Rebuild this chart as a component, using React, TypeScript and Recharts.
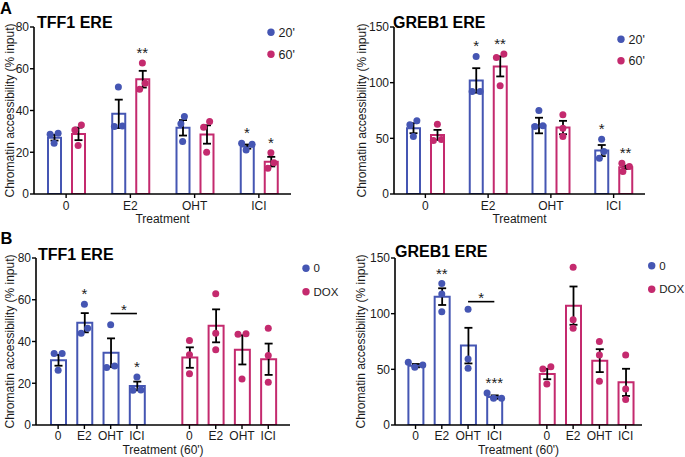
import React from "react";
import {
  Bar, Cell, ComposedChart, ErrorBar, Label, ReferenceLine, Scatter, XAxis, YAxis,
} from "recharts";

const BLUE = "#4556B3";
const PINK = "#C42A6E";
const INK = "#1b1b1b";
const FONT = '"Liberation Sans", Arial, Helvetica, sans-serif';

const treatments = ["0", "E2", "OHT", "ICI"];
const ticks80 = [0, 20, 40, 60, 80];
const ticks150 = [0, 50, 100, 150];

// A – TFF1 ERE, 20' vs 60'
const tffA20Mean = [27.0, 38.4, 31.7, 22.7];
const tffA20Sem = [1.4, 6.8, 3.7, 1.0];
const tffA20Pts = [[29.1, 28.6, 24.3], [51.2, 32.3, 32.6], [37.1, 33.6, 25.1], [24.3, 23.8, 21.1]];
const tffA20Sig = ["", "", "", "*"];
const tffA60Mean = [28.8, 55.0, 28.5, 15.5];
const tffA60Sem = [3.0, 4.0, 4.4, 2.3];
const tffA60Pts = [[33.1, 30.7, 23.2], [62.7, 50.2, 53.1], [34.7, 32.0, 20.0], [19.8, 12.3, 15.0]];
const tffA60Sig = ["", "**", "", "*"];

// A – GREB1 ERE, 20' vs 60'
const grebA20Mean = [59.1, 102.0, 61.5, 39.0];
const grebA20Sem = [4.5, 11.0, 7.0, 5.0];
const grebA20Pts = [[65.7, 62.1, 51.6], [123.6, 92.1, 92.1], [75.0, 60.6, 61.2], [49.2, 32.1, 38.1]];
const grebA20Sig = ["", "*", "", "*"];
const grebA60Mean = [53.1, 114.6, 59.7, 24.0];
const grebA60Sem = [4.5, 9.0, 6.0, 1.5];
const grebA60Pts = [[62.7, 49.0, 48.0], [125.7, 122.7, 97.2], [71.1, 59.1, 51.6], [27.6, 20.1, 24.6]];
const grebA60Sig = ["", "**", "", "**"];

// B – TFF1 ERE, 60', vehicle (0) vs DOX
const tffB0Mean = [31.0, 49.0, 34.6, 18.7];
const tffB0Sem = [2.6, 4.6, 6.9, 2.1];
const tffB0Pts = [[34.2, 34.2, 26.2], [57.9, 44.0, 46.4], [48.0, 27.5, 28.3], [23.0, 16.6, 16.8]];
const tffB0Sig = ["", "*", "", "*"];
const tffBDoxMean = [32.3, 47.5, 36.0, 31.5];
const tffBDoxSem = [4.9, 7.9, 7.0, 7.5];
const tffBDoxPts = [[40.5, 33.6, 24.5], [62.9, 44.0, 36.0], [43.7, 43.5, 22.0], [46.4, 33.3, 20.5]];
const tffBDoxSig = ["", "", "", ""];
const tffBBracket = { from: "OHT", to: "ICI", y: 53.4, label: "*" };

// B – GREB1 ERE, 60', vehicle (0) vs DOX
const grebB0Mean = [53.3, 115.3, 71.3, 25.1];
const grebB0Sem = [1.5, 7.5, 16.0, 1.5];
const grebB0Pts = [[56.3, 51.8, 53.9], [127.0, 117.7, 101.8], [104.0, 59.3, 50.9], [28.7, 24.0, 24.0]];
const grebB0Sig = ["", "**", "", "***"];
const grebBDoxMean = [45.8, 107.2, 57.8, 38.3];
const grebBDoxSem = [4.7, 17.2, 10.3, 12.2];
const grebBDoxPts = [[52.4, 50.3, 36.8], [141.6, 94.6, 87.0], [74.9, 62.9, 39.2], [62.9, 32.3, 22.8]];
const grebBDoxSig = ["", "*", "", ""];
const grebBBracket = { from: "OHT", to: "ICI", y: 110.8, label: "*" };

type Series = { mean: number[]; sem: number[]; pts: number[][]; sig: string[] };
type Box = { left: number; top: number; width: number; height: number };
type Plot = { x0: number; x1: number; y0: number; y1: number };

// spread replicate dots sideways where they would overlap (like a column scatter)
function swarm(vals: number[], ppu: number, d = 8): number[] {
  const n = vals.length;
  const ys = vals.map((v) => -v * ppu);
  const order = vals.map((_, i) => i).sort((p, q) => vals[p] - vals[q]);
  const xs = new Array(n).fill(0);
  const done: number[] = [];
  for (const i of order) {
    for (let s = 0; s < 80; s++) {
      const c = s === 0 ? 0 : (s % 2 ? 1 : -1) * Math.ceil(s / 2) * 0.5;
      if (done.every((j) => (c - xs[j]) ** 2 + (ys[i] - ys[j]) ** 2 >= d * d)) {
        xs[i] = c;
        break;
      }
    }
    done.push(i);
  }
  const grp = vals.map((_, i) => i);
  const find = (i: number): number => (grp[i] === i ? i : (grp[i] = find(grp[i])));
  for (let i = 0; i < n; i++)
    for (let j = i + 1; j < n; j++) if (Math.abs(ys[i] - ys[j]) < d) grp[find(i)] = find(j);
  const members: Record<number, number[]> = {};
  for (let i = 0; i < n; i++) (members[find(i)] ??= []).push(xs[i]);
  return xs.map((x, i) => {
    const g = members[find(i)];
    return x - (Math.max(...g) + Math.min(...g)) / 2;
  });
}

const dotShape = (color: (p: any) => string, dx: number, ptsKey: string, k: number, ppu: number) =>
  (props: any) => {
    const { cx, cy, payload } = props;
    if (!Number.isFinite(cx) || !Number.isFinite(cy) || !payload?.[ptsKey]) return <g />;
    const off = swarm(payload[ptsKey], ppu)[k];
    return <circle cx={cx + dx + off} cy={cy} r={3.5} fill={color(payload)} />;
  };

const starShape = (dx: number, sigKey: string) => (props: any) => {
  const { cx, cy, payload } = props;
  const s = payload?.[sigKey];
  if (!s || !Number.isFinite(cy)) return <g />;
  return (
    <text x={cx + dx} y={cy - 5} textAnchor="middle" fontSize={15} fill={INK}>{s}</text>
  );
};

const yTitle = (x: number, y: number) => () => (
  <text x={x} y={y} transform={`rotate(-90 ${x} ${y})`} textAnchor="middle"
    dominantBaseline="central" fontSize={12} fill={INK}>
    Chromatin accessibility (% input)
  </text>
);

const xTitle = (x: number, y: number, t: string) => () => (
  <text x={x} y={y} textAnchor="middle" fontSize={12} fill={INK}>{t}</text>
);

const axisProps = {
  axisLine: { stroke: "#000", strokeWidth: 1.6 },
  tickLine: { stroke: "#000", strokeWidth: 1.4 },
  tickSize: 4,
  tick: { fontSize: 12, fill: INK },
};

function GroupedPanel({ box, plot, yMax, yTicks, a, b, yTitleX, xLabel, xTitleY }: {
  box: Box; plot: Plot; yMax: number; yTicks: number[]; a: Series; b: Series;
  yTitleX: number; xLabel: string; xTitleY: number;
}) {
  const rows = treatments.map((c, i) => ({
    cat: c,
    aMean: a.mean[i], aSem: a.sem[i], aPts: a.pts[i], aSig: a.sig[i],
    a0: a.pts[i][0], a1: a.pts[i][1], a2: a.pts[i][2],
    aTop: Math.max(...a.pts[i], a.mean[i] + a.sem[i]),
    bMean: b.mean[i], bSem: b.sem[i], bPts: b.pts[i], bSig: b.sig[i],
    b0: b.pts[i][0], b1: b.pts[i][1], b2: b.pts[i][2],
    bTop: Math.max(...b.pts[i], b.mean[i] + b.sem[i]),
  }));
  const ppu = (plot.y1 - plot.y0) / yMax;
  const barSize = 13;
  const gap = 11;
  const slot = (barSize + gap) / 2;
  const series = [
    { id: "a", color: BLUE, dx: -slot },
    { id: "b", color: PINK, dx: slot },
  ];
  return (
    <div style={{ position: "absolute", left: box.left, top: box.top }}>
      <ComposedChart width={box.width} height={box.height} data={rows} barGap={gap}
        margin={{ top: plot.y0 - box.top, right: box.left + box.width - plot.x1, bottom: 0, left: 0 }}>
        <XAxis dataKey="cat" height={box.top + box.height - plot.y1} tickMargin={3.2} {...axisProps}>
          <Label content={xTitle((plot.x0 + plot.x1) / 2 - box.left, xTitleY - box.top, xLabel)} />
        </XAxis>
        <YAxis width={plot.x0 - box.left} domain={[0, yMax]} ticks={yTicks} allowDataOverflow
          tickMargin={1} {...axisProps}>
          <Label content={yTitle(yTitleX - box.left, (plot.y0 + plot.y1) / 2 - box.top)} />
        </YAxis>
        {series.map((s) => (
          <Bar key={s.id} dataKey={`${s.id}Mean`} barSize={barSize} fill="#fff" stroke={s.color}
            strokeWidth={2} isAnimationActive={false}>
            <ErrorBar dataKey={`${s.id}Sem`} width={4} stroke="#000" strokeWidth={1.8} />
          </Bar>
        ))}
        {series.flatMap((s) =>
          [0, 1, 2].map((k) => (
            <Scatter key={`${s.id}${k}`} dataKey={`${s.id}${k}`} isAnimationActive={false}
              shape={dotShape(() => s.color, s.dx, `${s.id}Pts`, k, ppu)} />
          ))
        )}
        {series.map((s) => (
          <Scatter key={`${s.id}star`} dataKey={`${s.id}Top`} isAnimationActive={false}
            shape={starShape(s.dx, `${s.id}Sig`)} />
        ))}
      </ComposedChart>
    </div>
  );
}

function SplitPanel({ box, plot, pad, yMax, yTicks, a, b, bracket, yTitleX, xLabel, xTitleY }: {
  box: Box; plot: Plot; pad: [number, number]; yMax: number; yTicks: number[]; a: Series; b: Series;
  bracket: { from: string; to: string; y: number; label: string };
  yTitleX: number; xLabel: string; xTitleY: number;
}) {
  const make = (s: Series, grp: string) =>
    treatments.map((c, i) => ({
      key: `${grp}${c}`, label: c, grp,
      mean: s.mean[i], sem: s.sem[i], pts: s.pts[i], sig: s.sig[i],
      p0: s.pts[i][0], p1: s.pts[i][1], p2: s.pts[i][2],
      top: Math.max(...s.pts[i], s.mean[i] + s.sem[i]),
    }));
  const rows: any[] = [...make(a, "a"), { key: "gap", label: "" }, ...make(b, "b")];
  const labelOf: Record<string, string> = Object.fromEntries(rows.map((r) => [r.key, r.label]));
  const ppu = (plot.y1 - plot.y0) / yMax;
  const colorOf = (p: any) => (p.grp === "a" ? BLUE : PINK);
  return (
    <div style={{ position: "absolute", left: box.left, top: box.top }}>
      <ComposedChart width={box.width} height={box.height} data={rows}
        margin={{ top: plot.y0 - box.top, right: box.left + box.width - plot.x1, bottom: 0, left: 0 }}>
        <XAxis dataKey="key" height={box.top + box.height - plot.y1} tickMargin={2.6}
          ticks={rows.filter((r) => r.key !== "gap").map((r) => r.key)}
          tickFormatter={(v: string) => labelOf[v]} padding={{ left: pad[0], right: pad[1] }}
          {...axisProps}>
          <Label content={xTitle((plot.x0 + plot.x1) / 2 - box.left, xTitleY - box.top, xLabel)} />
        </XAxis>
        <YAxis width={plot.x0 - box.left} domain={[0, yMax]} ticks={yTicks} allowDataOverflow
          tickMargin={1} {...axisProps}>
          <Label content={yTitle(yTitleX - box.left, (plot.y0 + plot.y1) / 2 - box.top)} />
        </YAxis>
        <Bar dataKey="mean" barSize={15} fill="#fff" strokeWidth={2} isAnimationActive={false}>
          {rows.map((r) => (
            <Cell key={r.key} fill="#fff" stroke={colorOf(r)} />
          ))}
          <ErrorBar dataKey="sem" width={4} stroke="#000" strokeWidth={1.8} />
        </Bar>
        {[0, 1, 2].map((k) => (
          <Scatter key={`p${k}`} dataKey={`p${k}`} isAnimationActive={false}
            shape={dotShape(colorOf, 0, "pts", k, ppu)} />
        ))}
        <Scatter dataKey="top" isAnimationActive={false} shape={starShape(0, "sig")} />
        <ReferenceLine
          segment={[{ x: `a${bracket.from}`, y: bracket.y }, { x: `a${bracket.to}`, y: bracket.y }]}
          stroke="#000" strokeWidth={1.6}
          label={{ value: bracket.label, position: "top", offset: -1.5, fontSize: 15, fill: INK }}
        />
      </ComposedChart>
    </div>
  );
}

const mk = (mean: number[], sem: number[], pts: number[][], sig: string[]): Series => ({ mean, sem, pts, sig });

function LegendMarks({ x, y, labels, size, step }: {
  x: number; y: number; labels: string[]; size: number; step: number;
}) {
  const colors = [BLUE, PINK];
  return (
    <g>
      {labels.map((l, i) => (
        <g key={l}>
          <circle cx={x} cy={y + i * step} r={3.7} fill={colors[i]} />
          <text x={x + 7.5} y={y + i * step + size * 0.36} fontSize={size} fill={INK}>{l}</text>
        </g>
      ))}
    </g>
  );
}

export default function App() {
  return (
    <div style={{ position: "absolute", left: 0, top: 0, width: 685, height: 457, background: "#fff", fontFamily: FONT }}>
      <GroupedPanel box={{ left: 0, top: 0, width: 340, height: 228 }} plot={{ x0: 34, x1: 291, y0: 27, y1: 194 }}
        yMax={80} yTicks={ticks80}
        a={mk(tffA20Mean, tffA20Sem, tffA20Pts, tffA20Sig)} b={mk(tffA60Mean, tffA60Sem, tffA60Pts, tffA60Sig)}
        yTitleX={10} xLabel="Treatment" xTitleY={223} />
      <GroupedPanel box={{ left: 340, top: 0, width: 345, height: 228 }} plot={{ x0: 394, x1: 645, y0: 27, y1: 194 }}
        yMax={150} yTicks={ticks150}
        a={mk(grebA20Mean, grebA20Sem, grebA20Pts, grebA20Sig)} b={mk(grebA60Mean, grebA60Sem, grebA60Pts, grebA60Sig)}
        yTitleX={361.5} xLabel="Treatment" xTitleY={223} />
      <SplitPanel box={{ left: 0, top: 228, width: 340, height: 229 }} plot={{ x0: 36, x1: 290, y0: 258, y1: 425 }}
        pad={[9, 8.6]} yMax={80} yTicks={ticks80}
        a={mk(tffB0Mean, tffB0Sem, tffB0Pts, tffB0Sig)} b={mk(tffBDoxMean, tffBDoxSem, tffBDoxPts, tffBDoxSig)}
        bracket={tffBBracket} yTitleX={9.5} xLabel="Treatment (60')" xTitleY={453.8} />
      <SplitPanel box={{ left: 340, top: 228, width: 345, height: 229 }} plot={{ x0: 395, x1: 642, y0: 258, y1: 425 }}
        pad={[7.4, 3.2]} yMax={150} yTicks={ticks150}
        a={mk(grebB0Mean, grebB0Sem, grebB0Pts, grebB0Sig)} b={mk(grebBDoxMean, grebBDoxSem, grebBDoxPts, grebBDoxSig)}
        bracket={grebBBracket} yTitleX={360.5} xLabel="Treatment (60')" xTitleY={453.8} />
      <svg width={685} height={457} style={{ position: "absolute", left: 0, top: 0, pointerEvents: "none" }}>
        <g fontWeight="bold" fill="#000">
          <text x={0} y={13.5} fontSize={16.5}>A</text>
          <text x={0.5} y={244} fontSize={16.5}>B</text>
          <text x={37} y={28} fontSize={16}>TFF1 ERE</text>
          <text x={393} y={27.5} fontSize={16}>GREB1 ERE</text>
          <text x={38} y={259.5} fontSize={16}>TFF1 ERE</text>
          <text x={395} y={256.5} fontSize={16}>GREB1 ERE</text>
        </g>
        <LegendMarks x={271} y={32.3} labels={["20'", "60'"]} size={12.5} step={22} />
        <LegendMarks x={621} y={39.3} labels={["20'", "60'"]} size={12.5} step={21.5} />
        <LegendMarks x={306} y={268.3} labels={["0", "DOX"]} size={11.5} step={23.5} />
        <LegendMarks x={651.7} y={265.7} labels={["0", "DOX"]} size={11.5} step={23.6} />
      </svg>
    </div>
  );
}
